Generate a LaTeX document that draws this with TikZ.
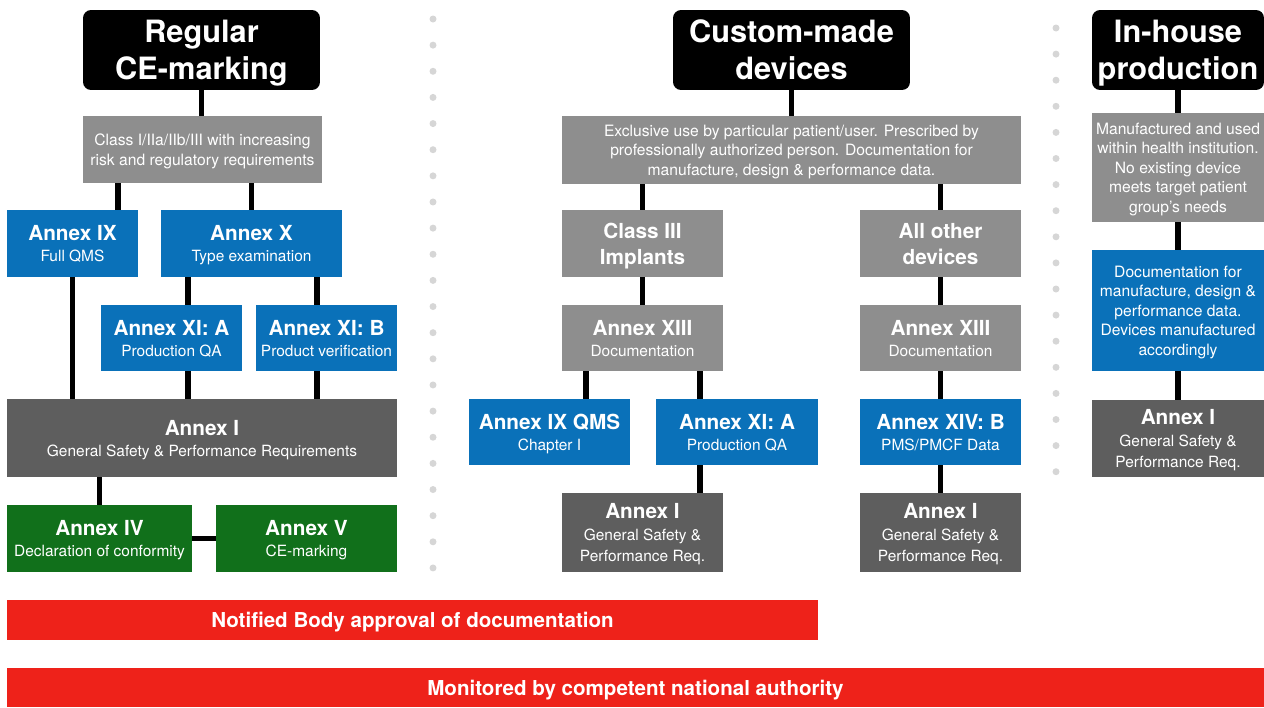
\documentclass[tikz,border=0pt]{standalone}
\usepackage{fontspec}
\setmainfont{TeX Gyre Heros}
\usepackage{tikz}
\usetikzlibrary{positioning,calc}

\definecolor{lgray}{HTML}{8E8E8E}
\definecolor{dgray}{HTML}{5E5E5E}
\definecolor{ablue}{HTML}{0A71B9}
\definecolor{agreen}{HTML}{11701B}
\definecolor{nred}{HTML}{EE221A}
\definecolor{dotgray}{HTML}{D6D6D6}

\newcommand{\ttl}{\bfseries\fontsize{11.8}{12}\selectfont}

\begin{document}
\begin{tikzpicture}[x=0.02cm,y=-0.02cm,
    box/.style={rectangle, text=white, align=center, inner sep=0pt, text depth=0pt, font=\fontsize{8.8}{12}\selectfont},
    header/.style={box, fill=black, rounded corners=0.16cm, font=\bfseries\fontsize{17.5}{21}\selectfont},
    info/.style={box, fill=lgray, font=\fontsize{8.9}{11.1}\selectfont},
    classbox/.style={box, fill=lgray, font=\bfseries\fontsize{11.8}{14.8}\selectfont},
    annex/.style={box, fill=ablue},
    docbox/.style={box, fill=lgray},
    req/.style={box, fill=dgray},
    cebox/.style={box, fill=agreen},
    bar/.style={box, fill=nred, font=\bfseries\fontsize{11.7}{14}\selectfont},
    link/.style={line width=3.1pt},
    dot/.style={circle, fill=dotgray, inner sep=0pt, minimum size=0.14cm}]
    \useasboundingbox (0,0) rectangle (1264,707);

    %%% Regular CE-marking
    \begin{scope}
        % Boxes
        \node[header, minimum width=4.74cm, minimum height=1.6cm] (reg) at (201.5,50) {Regular\\CE-marking};
        \node[info, minimum width=4.78cm, minimum height=1.34cm] (cls) at (202.5,149.5) {Class I/IIa/IIb/III with increasing\\risk and regulatory requirements};
        \node[annex, minimum width=2.62cm, minimum height=1.34cm] (ix) at (72.5,243.5) {{\ttl Annex IX}\\Full QMS};
        \node[annex, minimum width=3.62cm, minimum height=1.34cm] (x) at (251.5,243.5) {{\ttl Annex X}\\Type examination};
        \node[annex, minimum width=2.82cm, minimum height=1.32cm] (xia) at (171.5,338) {{\ttl Annex XI: A}\\Production QA};
        \node[annex, minimum width=2.82cm, minimum height=1.32cm] (xib) at (326.5,338) {{\ttl Annex XI: B}\\Product verification};
        \node[req, minimum width=7.8cm, minimum height=1.56cm] (ann1) at (202,438) {{\ttl Annex I}\\General Safety \& Performance Requirements};
        \node[cebox, minimum width=3.7cm, minimum height=1.34cm] (iv) at (99.5,538.5) {{\ttl Annex IV}\\Declaration of conformity};
        \node[cebox, minimum width=3.62cm, minimum height=1.34cm] (v) at (306.5,538.5) {{\ttl Annex V}\\CE-marking};

        % Lanes
        \coordinate (laneA) at (118,0);
        \coordinate (laneB) at (188,0);
        \coordinate (laneC) at (317,0);

        % Connectors
        \draw[link] (reg.south) -- (reg.south |- cls.north);
        \draw[link] (cls.south -| laneA) -- (ix.north -| laneA);
        \draw[link] (x.north |- cls.south) -- (x.north);
        \draw[link] (ix.south) -- (ix.south |- ann1.north);
        \draw[link] (x.south -| laneB) -- (xia.north -| laneB);
        \draw[link] (x.south -| laneC) -- (xib.north -| laneC);
        \draw[link] (xia.south -| laneB) -- (ann1.north -| laneB);
        \draw[link] (xib.south -| laneC) -- (ann1.north -| laneC);
        \draw[link] (iv.north |- ann1.south) -- (iv.north);
        \draw[link] (iv.east) -- (v.west);
    \end{scope}

    % Separators
    \foreach \i in {0,...,21}
        \node[dot] (dl\i) at (433,19+\i*26.14) {};
    \foreach \i in {0,...,17}
        \node[dot] (dr\i) at (1056,28+\i*26.1) {};

    %%% Custom-made devices
    \begin{scope}
        % Boxes
        \node[header, minimum width=4.74cm, minimum height=1.6cm] (cmd) at (791.5,50) {Custom-made\\devices};
        \node[info, minimum width=9.18cm, minimum height=1.36cm] (excl) at (791.5,150) {Exclusive use by particular patient/user. Prescribed by\\professionally authorized person. Documentation for\\manufacture, design \& performance data.};
        \node[classbox, minimum width=3.22cm, minimum height=1.34cm] (c3) at (642.5,243.5) {Class III\\Implants};
        \node[classbox, minimum width=3.22cm, minimum height=1.34cm] (oth) at (940.5,243.5) {All other\\devices};
        \node[docbox, minimum width=3.22cm, minimum height=1.32cm] (xiiil) at (642.5,338) {{\ttl Annex XIII}\\Documentation};
        \node[docbox, minimum width=3.22cm, minimum height=1.32cm] (xiiir) at (940.5,338) {{\ttl Annex XIII}\\Documentation};
        \node[annex, minimum width=3.22cm, minimum height=1.32cm] (ixq) at (549.5,432) {{\ttl Annex IX QMS}\\Chapter I};
        \node[annex, minimum width=3.24cm, minimum height=1.32cm] (xiam) at (737,432) {{\ttl Annex XI: A}\\Production QA};
        \node[annex, minimum width=3.22cm, minimum height=1.32cm] (xivb) at (940.5,432) {{\ttl Annex XIV: B}\\PMS/PMCF Data};
        \node[req, minimum width=3.22cm, minimum height=1.58cm] (ann1l) at (642.5,532.5) {{\ttl Annex I}\\General Safety \&\\Performance Req.};
        \node[req, minimum width=3.22cm, minimum height=1.58cm] (ann1r) at (940.5,532.5) {{\ttl Annex I}\\General Safety \&\\Performance Req.};

        % Lanes
        \coordinate (laneD) at (586,0);
        \coordinate (laneE) at (700,0);

        % Connectors
        \draw[link] (cmd.south) -- (cmd.south |- excl.north);
        \draw[link] (c3.north |- excl.south) -- (c3.north);
        \draw[link] (oth.north |- excl.south) -- (oth.north);
        \draw[link] (c3.south) -- (xiiil.north);
        \draw[link] (oth.south) -- (xiiir.north);
        \draw[link] (xiiil.south -| laneD) -- (ixq.north -| laneD);
        \draw[link] (xiiil.south -| laneE) -- (xiam.north -| laneE);
        \draw[link] (xiam.south -| laneE) -- (ann1l.north -| laneE);
        \draw[link] (xiiir.south) -- (xivb.north);
        \draw[link] (xivb.south) -- (ann1r.north);
    \end{scope}

    %%% In-house production
    \begin{scope}
        % Boxes
        \node[header, minimum width=3.44cm, minimum height=1.6cm] (ih) at (1178,50) {In-house\\production};
        \node[info, minimum width=3.44cm, minimum height=2.18cm] (ihg) at (1178,167.5) {Manufactured and used\\within health institution.\\No existing device\\meets target patient\\group's needs};
        \node[annex, font=\fontsize{8.9}{11.1}\selectfont, minimum width=3.44cm, minimum height=2.42cm] (ihb) at (1178,310.5) {Documentation for\\manufacture, design \&\\performance data.\\Devices manufactured\\accordingly};
        \node[req, minimum width=3.44cm, minimum height=1.54cm] (iha) at (1178,438.5) {{\ttl Annex I}\\General Safety \&\\Performance Req.};

        % Connectors
        \draw[link] (ih.south) -- (ihg.north);
        \draw[link] (ihg.south) -- (ihb.north);
        \draw[link] (ihb.south) -- (iha.north);
    \end{scope}

    %%% Bars
    \node[bar, minimum width=16.22cm, minimum height=0.8cm] (nb) at (412.5,620) {Notified Body approval of documentation};
    \node[bar, minimum width=25.14cm, minimum height=0.78cm] (mon) at (635.5,687.5) {Monitored by competent national authority};
\end{tikzpicture}
\end{document}
